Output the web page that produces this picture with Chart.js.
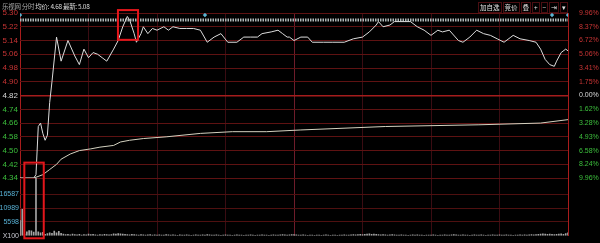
<!DOCTYPE html>
<html>
<head>
<meta charset="utf-8">
<script src="https://cdn.jsdelivr.net/npm/chart.js@4.4.0/dist/chart.umd.min.js"></script>
<style>
  html, body { margin: 0; padding: 0; background: #000; }
  #wrap { position: relative; width: 600px; height: 243px; overflow: hidden; background: #000; }
  #fenshi { position: absolute; left: 0; top: 0; }
  .title { position: absolute; left: 2px; top: 1px; font: 6.5px "Noto Sans CJK SC", sans-serif; color: #ddd; white-space: pre; letter-spacing: -0.3px; }
  .title .dim { color: #a8a8a8; }
  .btns { position: absolute; top: 2px; left: 478px; display: flex; gap: 1px; }
  .btns span { font: 6.5px "Noto Sans CJK SC", sans-serif; color: #e0e0e0; border: 1px solid #4a0e12; padding: 0 1px; line-height: 9px; }
</style>
</head>
<body>
<div id="wrap">
  <canvas id="fenshi" width="600" height="243"></canvas>
  <div class="title"><span class="dim">乐视网 分时</span> 均价: 4.68 最新: 5.08</div>
  <div class="btns"><span>加自选</span><span>竞价</span><span>叠</span><span>+</span><span>−</span><span>⇥</span><span>▾</span></div>
</div>
<script>
// Datos del grafico (minuto desde 9:30, 0..240)
var priceTicks = [5.30, 5.22, 5.14, 5.06, 4.98, 4.90, 4.82, 4.74, 4.66, 4.58, 4.50, 4.42, 4.34];
var pctLabels = ['9.96%', '8.37%', '6.72%', '5.06%', '3.41%', '1.75%', '0.00%', '1.62%', '3.28%', '4.93%', '6.58%', '8.24%', '9.96%'];
var volTicks = [0, 5598, 10989, 16587];
var volLabels = ['X100', '5598', '10989', '16587'];
var prevClose = 4.82;

// Precio (minuto, valor)
var priceMin = [0, 6, 7, 8, 9, 10, 11, 12, 13, 14, 16, 18, 21, 24, 26, 28, 30, 32, 34, 36, 38, 41, 43, 45, 47, 48, 50, 51, 53, 54,
  56, 58, 60, 63, 65, 67, 70, 73, 76, 79, 82, 85, 88, 91, 95, 98, 101, 104, 106, 110, 113, 115, 117, 118, 120, 123, 126, 128, 133, 137,
  142, 146, 150, 153, 156, 157, 159, 162, 164, 171, 174, 177, 180, 183, 185, 188, 192, 194, 197, 200, 203, 206, 209, 212, 215, 216, 219, 223, 226, 228,
  230, 232, 234, 235, 237, 239, 240];
var priceVal = [4.34, 4.34, 4.36, 4.64, 4.66, 4.60, 4.56, 4.59, 4.78, 4.90, 5.16, 5.02, 5.14, 5.05, 5.00, 5.09, 5.04, 5.07, 5.06, 5.04, 5.02, 5.09, 5.14, 5.22, 5.28, 5.26, 5.18, 5.13, 5.18, 5.22,
  5.18, 5.21, 5.20, 5.22, 5.20, 5.22, 5.21, 5.21, 5.21, 5.20, 5.13, 5.16, 5.18, 5.13, 5.13, 5.16, 5.16, 5.16, 5.18, 5.19, 5.20, 5.18, 5.16, 5.16, 5.14, 5.16, 5.16, 5.13, 5.13, 5.13,
  5.13, 5.15, 5.16, 5.19, 5.23, 5.25, 5.22, 5.23, 5.25, 5.25, 5.22, 5.20, 5.17, 5.20, 5.19, 5.20, 5.14, 5.13, 5.16, 5.20, 5.18, 5.17, 5.15, 5.13, 5.16, 5.17, 5.15, 5.14, 5.13, 5.09,
  5.03, 5.00, 4.99, 5.02, 5.07, 5.09, 5.08];

// Precio medio (均价)
var avgMin = [0, 6, 10, 13, 16, 18, 22, 26, 31, 35, 41, 44, 48, 54, 64, 79, 93, 108, 123, 160, 201, 228, 240];
var avgVal = [4.34, 4.34, 4.36, 4.39, 4.42, 4.45, 4.48, 4.50, 4.51, 4.52, 4.53, 4.55, 4.56, 4.57, 4.58, 4.60, 4.61, 4.61, 4.62, 4.64, 4.65, 4.66, 4.68];

// Volumen por minuto (x100)
var vol = [
  6000, 10500, 700, 1600, 2100, 2000, 1500, 22900, 1600, 1200, 1400, 600, 900, 1200, 1000, 1900, 1200, 1800, 1000, 700,
  500, 600, 400, 700, 500, 400, 600, 300, 500, 400, 700, 500, 600, 400, 300, 500, 400, 600, 500, 400,
  500, 800, 700, 900, 800, 700, 600, 500, 400, 600, 500, 400, 300, 500, 400, 300, 400, 500, 300, 400,
  300, 400, 300, 300, 500, 400, 300, 400, 300, 200, 400, 300, 300, 400, 300, 200, 300, 400, 300, 300,
  400, 300, 500, 400, 300, 300, 400, 300, 200, 300, 400, 300, 300, 200, 300, 400, 300, 300, 200, 300,
  300, 400, 300, 200, 300, 300, 400, 300, 300, 200, 300, 400, 300, 300, 400, 500, 400, 300, 400, 500,
  500, 400, 300, 300, 400, 300, 200, 300, 300, 200, 300, 300, 200, 300, 400, 300, 200, 300, 300, 200,
  300, 300, 400, 300, 300, 400, 500, 400, 500, 600, 500, 600, 700, 800, 600, 700, 600, 500, 400, 500,
  400, 300, 400, 500, 400, 300, 300, 400, 300, 300, 200, 300, 400, 300, 400, 300, 300, 200, 300, 300,
  300, 400, 300, 200, 300, 300, 400, 300, 300, 400, 500, 400, 300, 300, 400, 300, 300, 200, 300, 400,
  300, 300, 400, 300, 200, 300, 300, 400, 300, 300, 400, 300, 300, 400, 300, 300, 200, 300, 300, 400,
  300, 400, 300, 400, 500, 400, 500, 600, 700, 800, 700, 600, 700, 600, 500, 600, 700, 800, 600, 900, 1200
];

// Linea punteada superior y marcadores
var bandMin = [0, 240];
var bandVal = [5.26, 5.26];
var markMin = [0, 81, 233, 240];
var markVal = [5.288, 5.288, 5.288, 5.288];

// Recuadros rojos (minutos y precios)
var boxes = [
  { x0: 42.9, x1: 51.7, top: 5.317, bottom: 5.144 },
  { x0: 1.9, x1: 10.4, top: 4.43, bottom: 3.99 }
];

function pares(xs, ys) {
  return xs.map(function (m, i) { return { x: m, y: ys[i] }; });
}

function tv(c) { return c && c.tick ? c.tick.value : NaN; }

var recuadros = {
  id: 'recuadros',
  afterDatasetsDraw: function (chart) {
    var ctx = chart.ctx, x = chart.scales.x, y = chart.scales.y;
    ctx.save();
    ctx.strokeStyle = '#e3161b';
    ctx.lineWidth = 2;
    boxes.forEach(function (b) {
      var l = x.getPixelForValue(b.x0), r = x.getPixelForValue(b.x1);
      var t = y.getPixelForValue(b.top), bt = y.getPixelForValue(b.bottom);
      ctx.strokeRect(l, t, r - l, bt - t);
    });
    ctx.restore();
  }
};

function colorPrecio(v) {
  if (Math.abs(v - prevClose) < 0.001) return '#d8d8d8';
  return v > prevClose ? '#c83434' : '#3cbf3c';
}

var ctx = document.getElementById('fenshi').getContext('2d');
var chart = new Chart(ctx, {
  data: {
    datasets: [
      { type: 'line', data: pares(markMin, markVal), yAxisID: 'y', showLine: false, pointStyle: 'rectRot', pointRadius: 2.2, pointBackgroundColor: '#5cb6d4', pointBorderWidth: 0 },
      { type: 'line', data: pares(priceMin, priceVal), yAxisID: 'y', borderColor: '#dcdcdc', borderWidth: 1, pointRadius: 0, tension: 0 },
      { type: 'line', data: pares(avgMin, avgVal), yAxisID: 'y', borderColor: '#d4d2c0', borderWidth: 1, pointRadius: 0, tension: 0 },
      { type: 'line', data: pares(bandMin, bandVal), yAxisID: 'y', borderColor: '#aeb8b8', borderWidth: 3, borderDash: [1.5, 1], pointRadius: 0 },
      { type: 'bar', data: vol.map(function (v, i) { return { x: i, y: v }; }), yAxisID: 'v', backgroundColor: '#a4a4a4', barThickness: 1 }
    ]
  },
  options: {
    responsive: false,
    animation: false,
    events: [],
    layout: { padding: { top: 13, bottom: 6, left: 0, right: 0 } },
    plugins: { legend: { display: false }, tooltip: { enabled: false } },
    scales: {
      x: {
        type: 'linear', min: 0, max: 240, offset: false,
        ticks: { display: false, stepSize: 30 },
        border: { display: false },
        grid: {
          offset: false,
          drawTicks: false,
          color: function (c) {
            var v = tv(c);
            if (v === 0 || v === 240) return '#a81c1c';
            if (v === 120) return '#6e1c2a';
            return '#3a0c12';
          }
        }
      },
      // volumen (abajo a la izquierda); se declara antes que y para quedar debajo
      v: {
        position: 'left', stack: 'izq', stackWeight: 58,
        min: 0, max: 22900,
        afterBuildTicks: function (s) { s.ticks = volTicks.map(function (v) { return { value: v }; }); },
        afterFit: function (s) { s.width = 20; },
        border: { display: false },
        grid: {
          drawTicks: false,
          color: function (c) { return tv(c) === 0 ? 'rgba(0,0,0,0)' : '#4e1010'; }
        },
        ticks: {
          autoSkip: false,
          padding: 1,
          font: { family: 'Liberation Sans', size: 7 },
          color: function (c) { return tv(c) === 0 ? '#c8c8d0' : '#58b2d6'; },
          callback: function (v) { return volLabels[volTicks.indexOf(v)]; }
        }
      },
      y: {
        position: 'left', stack: 'izq', stackWeight: 166,
        min: 4.34, max: 5.30,
        afterBuildTicks: function (s) { s.ticks = priceTicks.map(function (v) { return { value: v }; }); },
        afterFit: function (s) { s.width = 20; },
        border: { display: false },
        grid: {
          drawTicks: false,
          color: function (c) { return Math.abs(tv(c) - prevClose) < 0.001 ? '#a41c1c' : '#5e1212'; },
          lineWidth: function (c) { return Math.abs(tv(c) - prevClose) < 0.001 ? 1.5 : 1; }
        },
        ticks: {
          autoSkip: false,
          padding: 2,
          font: { family: 'Liberation Sans', size: 8 },
          color: function (c) { return colorPrecio(tv(c)); },
          callback: function (v) { return v.toFixed(2); }
        }
      },
      yr: {
        position: 'right', stack: 'der', stackWeight: 166,
        min: 4.34, max: 5.30,
        afterBuildTicks: function (s) { s.ticks = priceTicks.map(function (v) { return { value: v }; }); },
        afterFit: function (s) { s.width = 32; },
        border: { display: false },
        grid: { display: false },
        ticks: {
          autoSkip: false,
          padding: 3,
          font: { family: 'Liberation Sans', size: 7 },
          color: function (c) { return colorPrecio(tv(c)); },
          callback: function (v) { return pctLabels[priceTicks.indexOf(v)]; }
        }
      },
      vr: {
        position: 'right', stack: 'der', stackWeight: 58,
        min: 0, max: 22900,
        afterFit: function (s) { s.width = 32; },
        border: { display: false },
        grid: { display: false },
        ticks: { display: false }
      }
    }
  },
  plugins: [recuadros]
});
</script>
</body>
</html>
